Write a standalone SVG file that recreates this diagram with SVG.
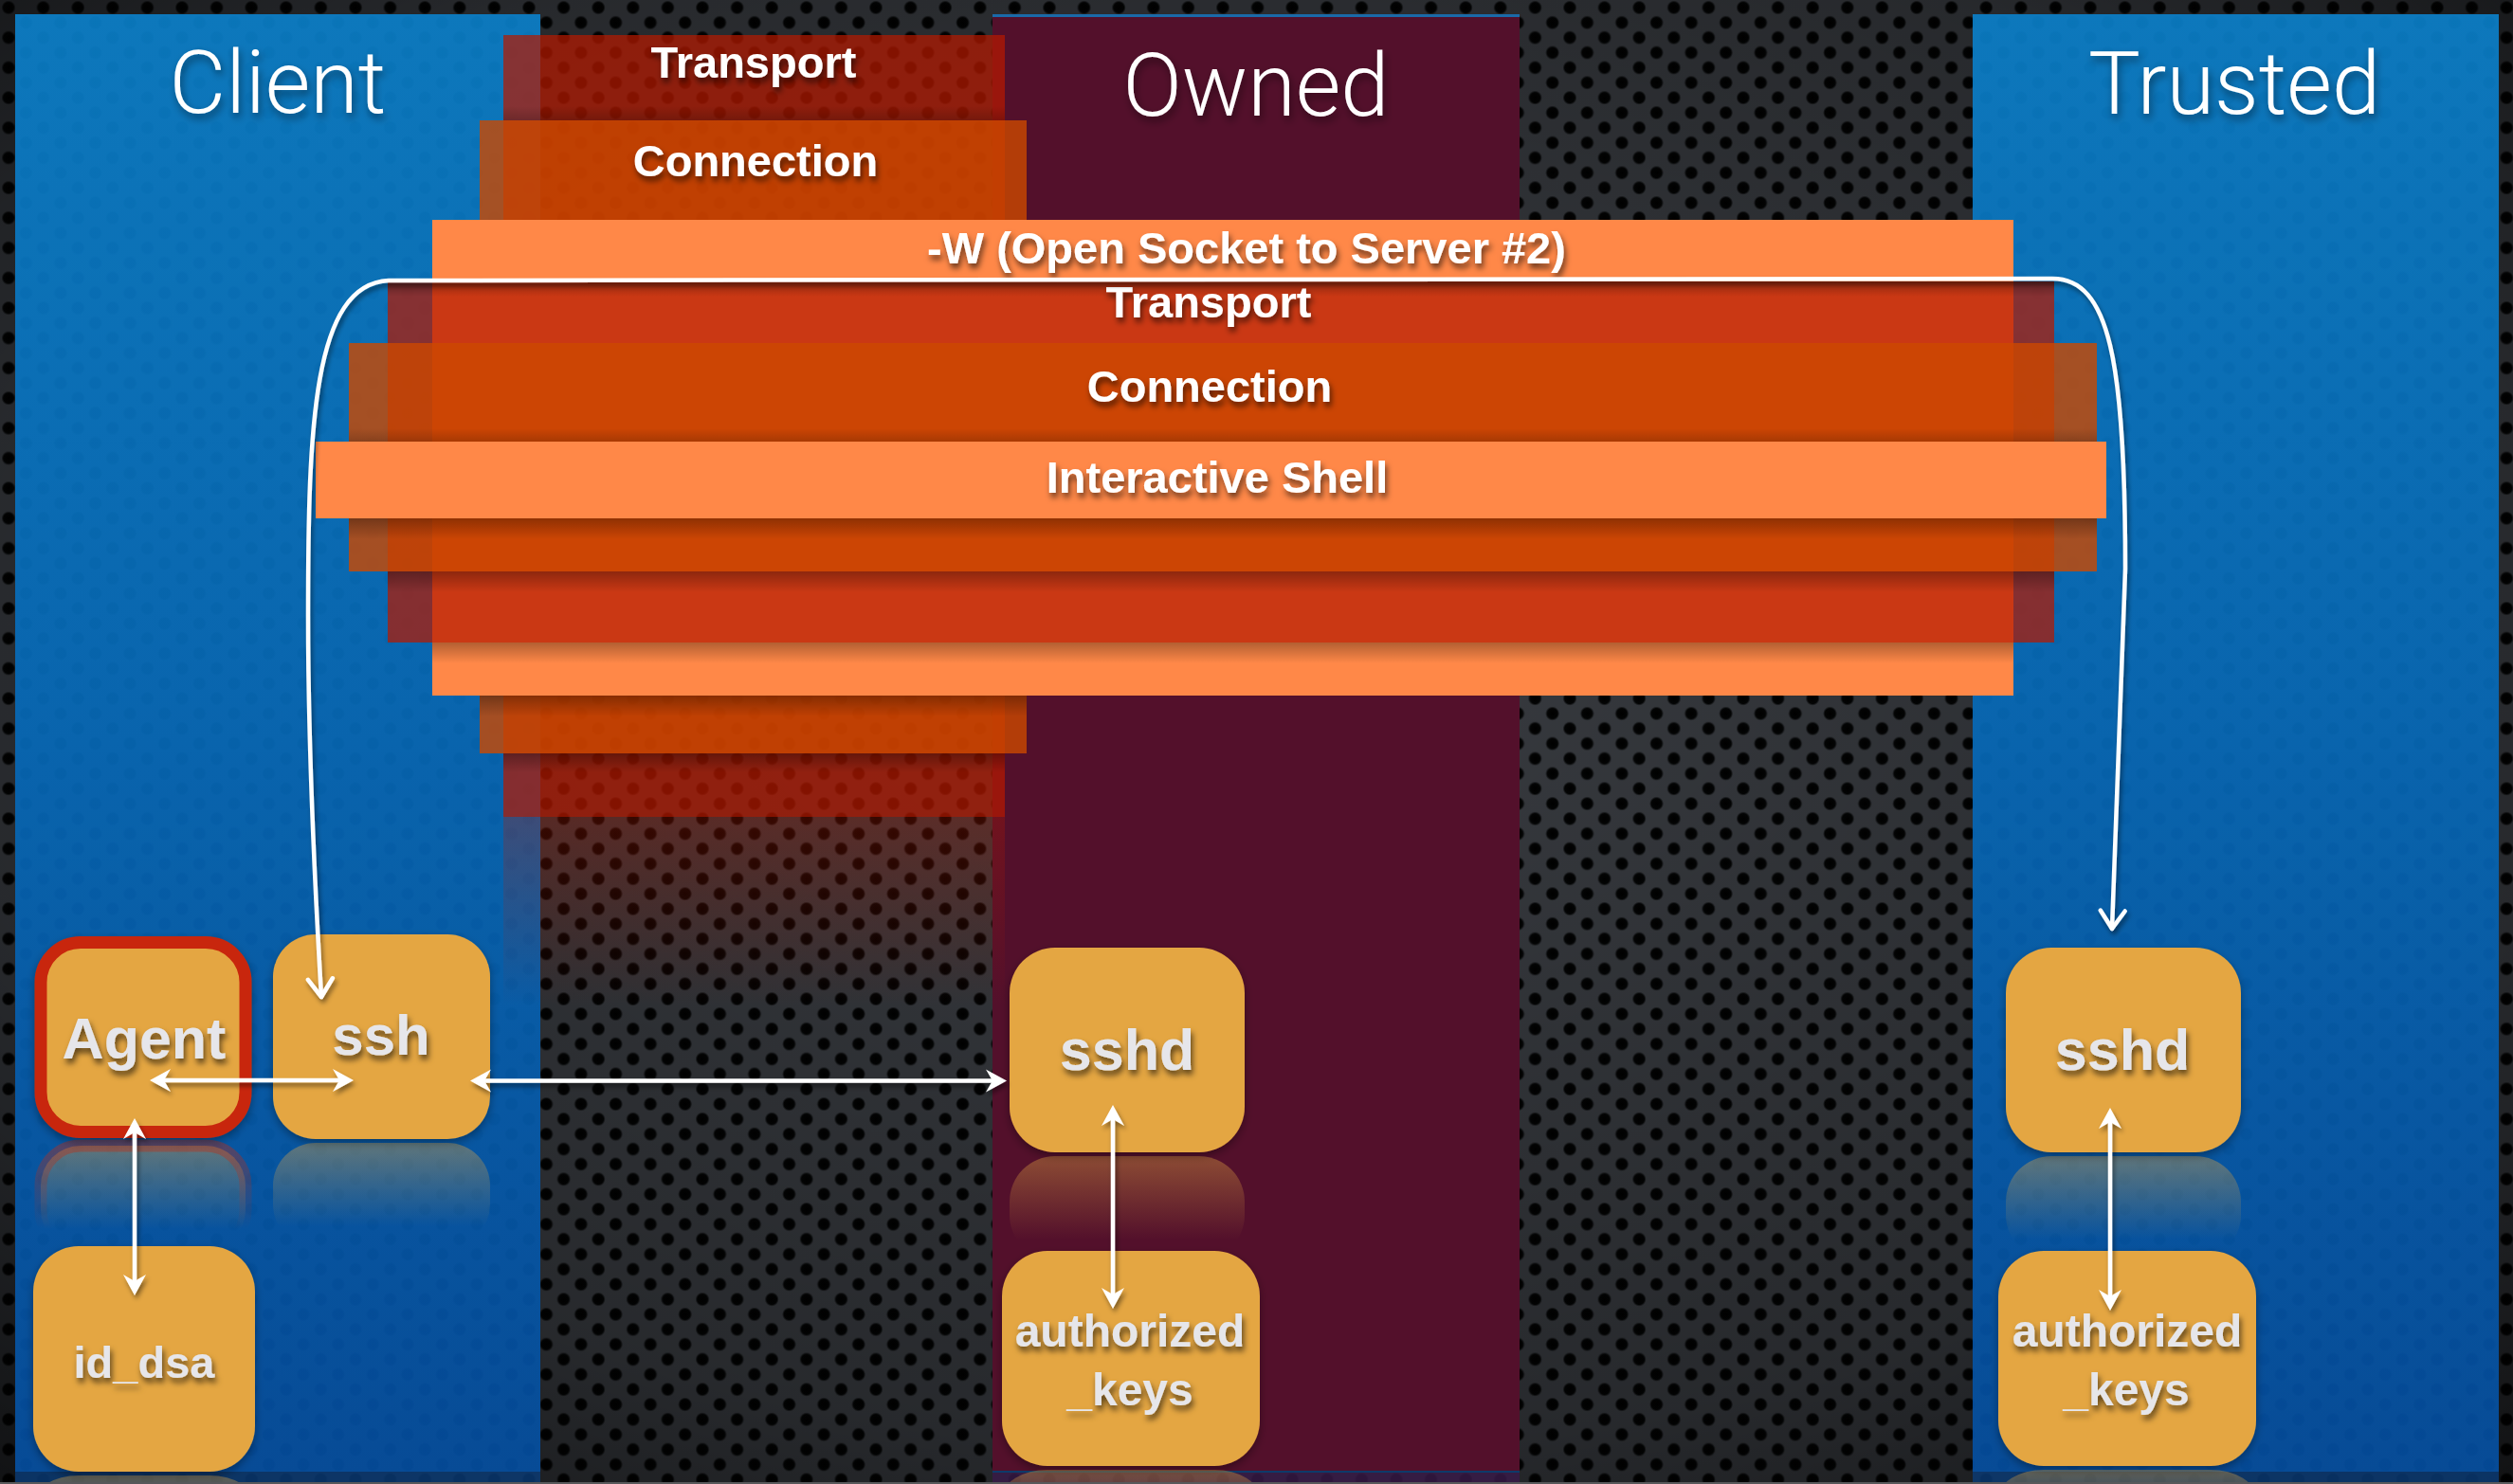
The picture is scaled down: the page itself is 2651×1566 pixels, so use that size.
<svg xmlns="http://www.w3.org/2000/svg" width="2651" height="1566" viewBox="0 0 2651 1566">
<defs>
<style>
.title{font-family:Roboto,"Liberation Sans",Arial,sans-serif;font-weight:300;font-size:92px;fill:#ffffff;text-anchor:middle}
.lt{font-family:"Liberation Sans",Arial,sans-serif;font-weight:bold;font-size:47px;fill:#ffffff;text-anchor:middle}
.nt{font-family:"Liberation Sans",Arial,sans-serif;font-weight:bold;fill:#e6e6ea;text-anchor:middle}
.node{fill:#e4a642}
.conn{stroke:#ffffff;stroke-width:4.5;fill:none}
.tr{fill:#b61900;fill-opacity:0.72}
.cn{fill:#cc4800;fill-opacity:0.8}
.lo{fill:#ff8848}
.sd{fill:url(#shDown)}
.su{fill:url(#shUp)}
</style>
<radialGradient id="hole" cx="0.5" cy="0.5" r="0.5">
<stop offset="0" stop-color="#000000"/>
<stop offset="0.72" stop-color="#030404"/>
<stop offset="1" stop-color="#383b40"/>
</radialGradient>
<pattern id="mesh" width="36.6" height="31.7" patternUnits="userSpaceOnUse">
<rect width="36.6" height="31.7" fill="#383b40"/>
<circle cx="9" cy="8" r="7.5" fill="url(#hole)"/>
<circle cx="27.3" cy="23.85" r="7.5" fill="url(#hole)"/>
</pattern>
<radialGradient id="vig" cx="0.5" cy="0.45" r="0.75">
<stop offset="0" stop-color="#000" stop-opacity="0"/>
<stop offset="0.7" stop-color="#000" stop-opacity="0.3"/>
<stop offset="1" stop-color="#000" stop-opacity="0.7"/>
</radialGradient>
<linearGradient id="blue" x1="0" y1="0" x2="0" y2="1">
<stop offset="0" stop-color="#0a7cc4"/>
<stop offset="0.5" stop-color="#0667b4"/>
<stop offset="1" stop-color="#044c9c"/>
</linearGradient>
<linearGradient id="shDown" x1="0" y1="0" x2="0" y2="1">
<stop offset="0" stop-color="#000" stop-opacity="0.3"/>
<stop offset="1" stop-color="#000" stop-opacity="0"/>
</linearGradient>
<linearGradient id="shUp" x1="0" y1="1" x2="0" y2="0">
<stop offset="0" stop-color="#000" stop-opacity="0.18"/>
<stop offset="1" stop-color="#000" stop-opacity="0"/>
</linearGradient>
<linearGradient id="reflTan" x1="0" y1="0" x2="0" y2="1">
<stop offset="0" stop-color="#e4a642" stop-opacity="0.4"/>
<stop offset="0.8" stop-color="#e4a642" stop-opacity="0"/>
</linearGradient>
<linearGradient id="reflRed" x1="0" y1="0" x2="0" y2="1">
<stop offset="0" stop-color="#c8280c" stop-opacity="0.4"/>
<stop offset="0.8" stop-color="#c8280c" stop-opacity="0"/>
</linearGradient>
<linearGradient id="reflStack" x1="0" y1="0" x2="0" y2="1">
<stop offset="0" stop-color="#b61900" stop-opacity="0.3"/>
<stop offset="1" stop-color="#b61900" stop-opacity="0"/>
</linearGradient>
<filter id="ts" x="-20%" y="-40%" width="140%" height="180%">
<feDropShadow dx="2" dy="5" stdDeviation="3" flood-color="#000" flood-opacity="0.6"/>
</filter>
<filter id="tts" x="-20%" y="-40%" width="140%" height="180%">
<feDropShadow dx="2" dy="5" stdDeviation="4" flood-color="#000" flood-opacity="0.45"/>
</filter>
<filter id="ns" x="-20%" y="-20%" width="140%" height="140%">
<feDropShadow dx="0" dy="4" stdDeviation="5" flood-color="#000" flood-opacity="0.35"/>
</filter>
<filter id="ls" x="-5%" y="-5%" width="110%" height="110%">
<feDropShadow dx="2" dy="4" stdDeviation="2.5" flood-color="#000" flood-opacity="0.45"/>
</filter>
<marker id="ah" viewBox="-16 -13 26 26" refX="0" refY="0" markerWidth="26" markerHeight="26" markerUnits="userSpaceOnUse" orient="auto-start-reverse">
<path d="M8,0 L-14,-12 L-7,0 L-14,12 Z" fill="#ffffff"/>
</marker>
<marker id="chev" viewBox="-24 -16 28 32" refX="0" refY="0" markerWidth="28" markerHeight="32" markerUnits="userSpaceOnUse" orient="auto-start-reverse">
<path d="M-19,-13 L0,0 L-19,13" fill="none" stroke="#ffffff" stroke-width="4.5" stroke-linecap="round" stroke-linejoin="round"/>
</marker>
</defs>

<!-- background -->
<rect x="0" y="0" width="2651" height="1566" fill="url(#mesh)"/>
<rect x="0" y="0" width="2651" height="1566" fill="url(#vig)"/>

<!-- panels -->
<g id="panel-client">
<rect x="16" y="15" width="554" height="1538" fill="url(#blue)"/>
<rect x="16" y="15" width="554" height="1538" fill="url(#mesh)" opacity="0.06"/>
<text class="title" x="293" y="119" filter="url(#tts)">Client</text>
</g>
<g id="panel-owned">
<rect x="1047" y="15" width="556" height="1538" fill="#53102b"/>
<rect x="1047" y="15" width="556" height="3" fill="#1a6aa8"/>
<text class="title" x="1325" y="122" filter="url(#tts)">Owned</text>
</g>
<g id="panel-trusted">
<rect x="2081" y="15" width="555" height="1538" fill="url(#blue)"/>
<rect x="2081" y="15" width="555" height="1538" fill="url(#mesh)" opacity="0.06"/>
<text class="title" x="2357" y="120" filter="url(#tts)">Trusted</text>
</g>

<!-- bottom reflection strip -->
<rect x="16" y="1553" width="554" height="11" fill="#0a3c78" opacity="0.8"/>
<rect x="1047" y="1553" width="556" height="11" fill="#3a1a4a" opacity="0.8"/>
<rect x="2081" y="1553" width="555" height="11" fill="#0a3c78" opacity="0.8"/>
<rect x="1047" y="1552" width="556" height="2" fill="#0d3a6a"/>

<!-- left stack reflection -->
<rect x="531" y="862" width="529" height="200" fill="url(#reflStack)"/>

<!-- layer stack -->
<g id="layer-transport-outer">
<rect class="tr" x="531" y="37" width="529" height="825"/>
<rect class="su" x="531" y="112" width="529" height="15"/>
<text class="lt" x="795" y="82" filter="url(#ts)">Transport</text>
</g>
<g id="layer-connection-outer">
<rect class="cn" x="506" y="127" width="577" height="668"/>
<text class="lt" x="797" y="186" filter="url(#ts)">Connection</text>
<rect class="sd" x="531" y="795" width="529" height="20"/>
</g>
<g id="layer-socket">
<rect class="lo" x="456" y="232" width="1668" height="502"/>
<rect class="sd" x="506" y="734" width="577" height="22"/>
<text class="lt" x="1315" y="278" filter="url(#ts)">-W (Open Socket to Server #2)</text>
</g>
<g id="layer-transport-inner">
<rect class="tr" x="409" y="297" width="1758" height="381"/>
<rect class="sd" x="409" y="297" width="1758" height="16"/>
<rect class="sd" x="456" y="678" width="1668" height="22"/>
<text class="lt" x="1275" y="335" filter="url(#ts)">Transport</text>
</g>
<g id="layer-connection-inner">
<rect class="cn" x="368" y="362" width="1844" height="241"/>
<rect class="sd" x="409" y="603" width="1758" height="22"/>
<rect class="su" x="368" y="452" width="1844" height="14"/>
<text class="lt" x="1276" y="424" filter="url(#ts)">Connection</text>
</g>
<g id="layer-shell">
<rect class="lo" x="333" y="466" width="1889" height="81"/>
<rect class="sd" x="368" y="547" width="1844" height="22"/>
<text class="lt" x="1284" y="520" filter="url(#ts)">Interactive Shell</text>
</g>

<!-- node reflections -->
<g id="reflections">
<rect x="43" y="1209" width="216" height="110" rx="42" fill="url(#reflTan)" stroke="url(#reflRed)" stroke-width="13"/>
<rect x="288" y="1206" width="229" height="110" rx="45" fill="url(#reflTan)"/>
<rect x="1065" y="1220" width="248" height="110" rx="48" fill="url(#reflTan)"/>
<rect x="2116" y="1220" width="248" height="110" rx="48" fill="url(#reflTan)"/>
<rect x="35" y="1557" width="234" height="60" rx="48" fill="url(#reflTan)"/>
<rect x="1057" y="1551" width="272" height="60" rx="48" fill="url(#reflTan)"/>
<rect x="2108" y="1551" width="272" height="60" rx="48" fill="url(#reflTan)"/>
</g>
<rect x="0" y="1564" width="2651" height="2" fill="#58595b"/>

<!-- nodes -->
<g id="node-agent" filter="url(#ns)">
<rect x="43" y="994.5" width="216" height="200" rx="42" fill="#e4a642" stroke="#c8280c" stroke-width="13"/>
<text class="nt" x="152" y="1117" font-size="61" filter="url(#ts)">Agent</text>
</g>
<g id="node-ssh" filter="url(#ns)">
<rect class="node" x="288" y="986" width="229" height="216" rx="45"/>
<text class="nt" x="402" y="1113" font-size="60" filter="url(#ts)">ssh</text>
</g>
<g id="node-id-dsa" filter="url(#ns)">
<rect class="node" x="35" y="1315" width="234" height="238" rx="48"/>
<text class="nt" x="152" y="1454" font-size="47" filter="url(#ts)">id_dsa</text>
</g>
<g id="node-owned-sshd" filter="url(#ns)">
<rect class="node" x="1065" y="1000" width="248" height="216" rx="48"/>
<text class="nt" x="1189" y="1129" font-size="61" filter="url(#ts)">sshd</text>
</g>
<g id="node-owned-keys" filter="url(#ns)">
<rect class="node" x="1057" y="1320" width="272" height="227" rx="48"/>
<text class="nt" x="1192" y="1421" font-size="48" filter="url(#ts)">authorized</text>
<text class="nt" x="1192" y="1483" font-size="48" filter="url(#ts)">_keys</text>
</g>
<g id="node-trusted-sshd" filter="url(#ns)">
<rect class="node" x="2116" y="1000" width="248" height="216" rx="48"/>
<text class="nt" x="2239" y="1129" font-size="61" filter="url(#ts)">sshd</text>
</g>
<g id="node-trusted-keys" filter="url(#ns)">
<rect class="node" x="2108" y="1320" width="272" height="227" rx="48"/>
<text class="nt" x="2244" y="1421" font-size="48" filter="url(#ts)">authorized</text>
<text class="nt" x="2243" y="1483" font-size="48" filter="url(#ts)">_keys</text>
</g>

<!-- connectors -->
<g id="connectors" filter="url(#ls)">
<path class="conn" d="M339,1052 C333,950 325,800 325,650 C325,450 330,300 410,296 L2165,294 C2225,294 2242,380 2242,600 L2228,980" marker-start="url(#chev)" marker-end="url(#chev)" stroke-linecap="round"/>
<line class="conn" x1="166" y1="1140" x2="365" y2="1140" marker-start="url(#ah)" marker-end="url(#ah)"/>
<line class="conn" x1="504" y1="1140.5" x2="1054" y2="1140.5" marker-start="url(#ah)" marker-end="url(#ah)"/>
<line class="conn" x1="142" y1="1188" x2="142" y2="1359" marker-start="url(#ah)" marker-end="url(#ah)"/>
<line class="conn" x1="1174" y1="1174" x2="1174" y2="1373" marker-start="url(#ah)" marker-end="url(#ah)"/>
<line class="conn" x1="2226" y1="1177" x2="2226" y2="1375" marker-start="url(#ah)" marker-end="url(#ah)"/>
</g>
</svg>
